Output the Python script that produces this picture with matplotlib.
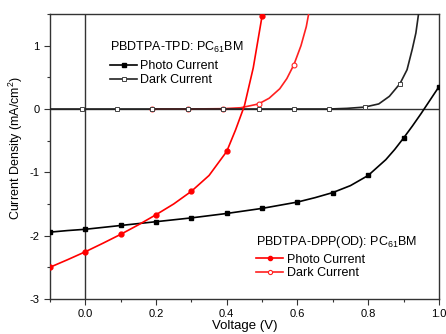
import numpy as np
import matplotlib
matplotlib.use("Agg")
import matplotlib.pyplot as plt
from matplotlib.lines import Line2D

plt.rcParams['font.family'] = ['Liberation Sans', 'DejaVu Sans']
plt.rcParams['mathtext.fontset'] = 'custom'
plt.rcParams['mathtext.rm'] = 'Liberation Sans'

# PBDTPA-TPD: PC61BM
tpd_photo_v = [-0.1, -0.05, 0.0, 0.05, 0.1, 0.15, 0.2, 0.25, 0.3, 0.35, 0.4, 0.45,
               0.5, 0.55, 0.6, 0.65, 0.7, 0.75, 0.8, 0.85, 0.875, 0.9, 0.925, 0.95,
               0.975, 1.0]
tpd_photo_j = [-1.945, -1.92, -1.90, -1.87, -1.84, -1.81, -1.78, -1.75, -1.72, -1.685,
               -1.65, -1.61, -1.57, -1.52, -1.47, -1.40, -1.32, -1.21, -1.05, -0.80,
               -0.64, -0.46, -0.27, -0.07, 0.14, 0.35]
tpd_dark_v = [-0.1, -0.01, 0.09, 0.19, 0.29, 0.39, 0.49, 0.59, 0.69, 0.74, 0.79, 0.83,
              0.86, 0.89, 0.91, 0.925, 0.935, 0.945]
tpd_dark_j = [0, 0, 0, 0, 0, 0, 0, 0, 0.0, 0.01, 0.03, 0.08, 0.2, 0.40, 0.62, 0.95,
              1.2, 1.6]

# PBDTPA-DPP(OD): PC61BM
dpp_photo_v = [-0.1, -0.05, 0.0, 0.05, 0.1, 0.15, 0.2, 0.25, 0.3, 0.35, 0.4, 0.425,
               0.45, 0.475, 0.5]
dpp_photo_j = [-2.50, -2.38, -2.255, -2.12, -1.98, -1.83, -1.67, -1.50, -1.30, -1.05,
               -0.67, -0.33, 0.05, 0.65, 1.47]
dpp_dark_v = [0.19, 0.29, 0.39, 0.44, 0.49, 0.52, 0.55, 0.57, 0.59, 0.61, 0.625, 0.635]
dpp_dark_j = [0, 0, 0.005, 0.02, 0.08, 0.17, 0.32, 0.48, 0.70, 1.0, 1.3, 1.6]

tpd_photo_marks = [-0.1, 0.0, 0.1, 0.2, 0.3, 0.4, 0.5, 0.6, 0.7, 0.8, 0.9, 1.0]
tpd_dark_marks = [-0.01, 0.09, 0.19, 0.29, 0.39, 0.49, 0.59, 0.69, 0.79, 0.89]
dpp_photo_marks = [-0.1, 0.0, 0.1, 0.2, 0.3, 0.4, 0.5]
dpp_dark_marks = [0.19, 0.29, 0.39, 0.49, 0.59]


def mark_idx(v, marks):
    v = np.asarray(v)
    return [int(np.argmin(np.abs(v - m))) for m in marks]


fig = plt.figure(figsize=(4.46, 3.34), dpi=100)
ax = fig.add_axes([0.112, 0.105, 0.872, 0.853])

ax.axhline(0, color='#333333', lw=1.0, zorder=1)
ax.axvline(0, color='#333333', lw=1.0, zorder=1)

ax.plot(dpp_dark_v, dpp_dark_j, color='#ff2020', lw=1.2, marker='o', ms=3.5,
        mfc='white', mec='#ff2020', mew=0.8, markevery=mark_idx(dpp_dark_v, dpp_dark_marks), zorder=3)
ax.plot(tpd_dark_v, tpd_dark_j, color='#222222', lw=1.2, marker='s', ms=3.3,
        mfc='white', mec='#444444', mew=0.7, markevery=mark_idx(tpd_dark_v, tpd_dark_marks), zorder=4)
ax.plot(tpd_photo_v, tpd_photo_j, color='black', lw=1.2, marker='s', ms=3.5,
        markevery=mark_idx(tpd_photo_v, tpd_photo_marks), zorder=5)
ax.plot(dpp_photo_v, dpp_photo_j, color='red', lw=1.2, marker='o', ms=3.5,
        markevery=mark_idx(dpp_photo_v, dpp_photo_marks), zorder=6)

ax.set_xlim(-0.1, 1.0)
ax.set_ylim(-3, 1.5)
ax.set_xticks([0.0, 0.2, 0.4, 0.6, 0.8, 1.0])
ax.set_xticks(np.arange(-0.1, 1.01, 0.1), minor=True)
ax.set_yticks([-3, -2, -1, 0, 1])
ax.set_yticks([-2.5, -1.5, -0.5, 0.5, 1.5], minor=True)
ax.set_xticklabels(['0.0', '0.2', '0.4', '0.6', '0.8', '1.0'])
ax.set_yticklabels(['-3', '-2', '-1', '0', '1'])
ax.tick_params(which='both', direction='out', labelsize=8, width=0.8, color='#333333')
ax.tick_params(which='major', length=4)
ax.tick_params(which='minor', length=2.5)
for s in ax.spines.values():
    s.set_linewidth(1.0)
    s.set_color('#333333')

ax.set_xlabel('Voltage (V)', fontsize=9.5, labelpad=0.5)
ax.set_ylabel('Current Density (mA/cm$^2$)', fontsize=9, labelpad=4)
ax.yaxis.set_label_coords(-0.064, 0.53)

# legend titles as plain text
ax.text(0.154, 0.881, 'PBDTPA-TPD: PC$_{61}$BM', transform=ax.transAxes,
        fontsize=9, ha='left', va='center')
ax.text(0.5296, 0.20, 'PBDTPA-DPP(OD): PC$_{61}$BM', transform=ax.transAxes,
        fontsize=9, ha='left', va='center')

h1 = [Line2D([], [], color='black', lw=1.2, marker='s', ms=3),
      Line2D([], [], color='#222222', lw=1.2, marker='s', ms=3, mfc='white', mec='#444444', mew=0.7)]
leg1 = ax.legend(h1, ['Photo Current', 'Dark Current'], loc='center left',
                 bbox_to_anchor=(0.154, 0.793), frameon=False, fontsize=9,
                 handlelength=2.2, handletextpad=0.25, labelspacing=0.15,
                 borderpad=0, borderaxespad=0)
ax.add_artist(leg1)

h2 = [Line2D([], [], color='red', lw=1.2, marker='o', ms=3),
      Line2D([], [], color='#ff2020', lw=1.2, marker='o', ms=3, mfc='white', mec='#ff2020', mew=0.8)]
ax.legend(h2, ['Photo Current', 'Dark Current'], loc='center left',
          bbox_to_anchor=(0.5296, 0.114), frameon=False, fontsize=9,
          handlelength=2.2, handletextpad=0.25, labelspacing=0.1,
          borderpad=0, borderaxespad=0)

fig.savefig('out.png', dpi=100)
